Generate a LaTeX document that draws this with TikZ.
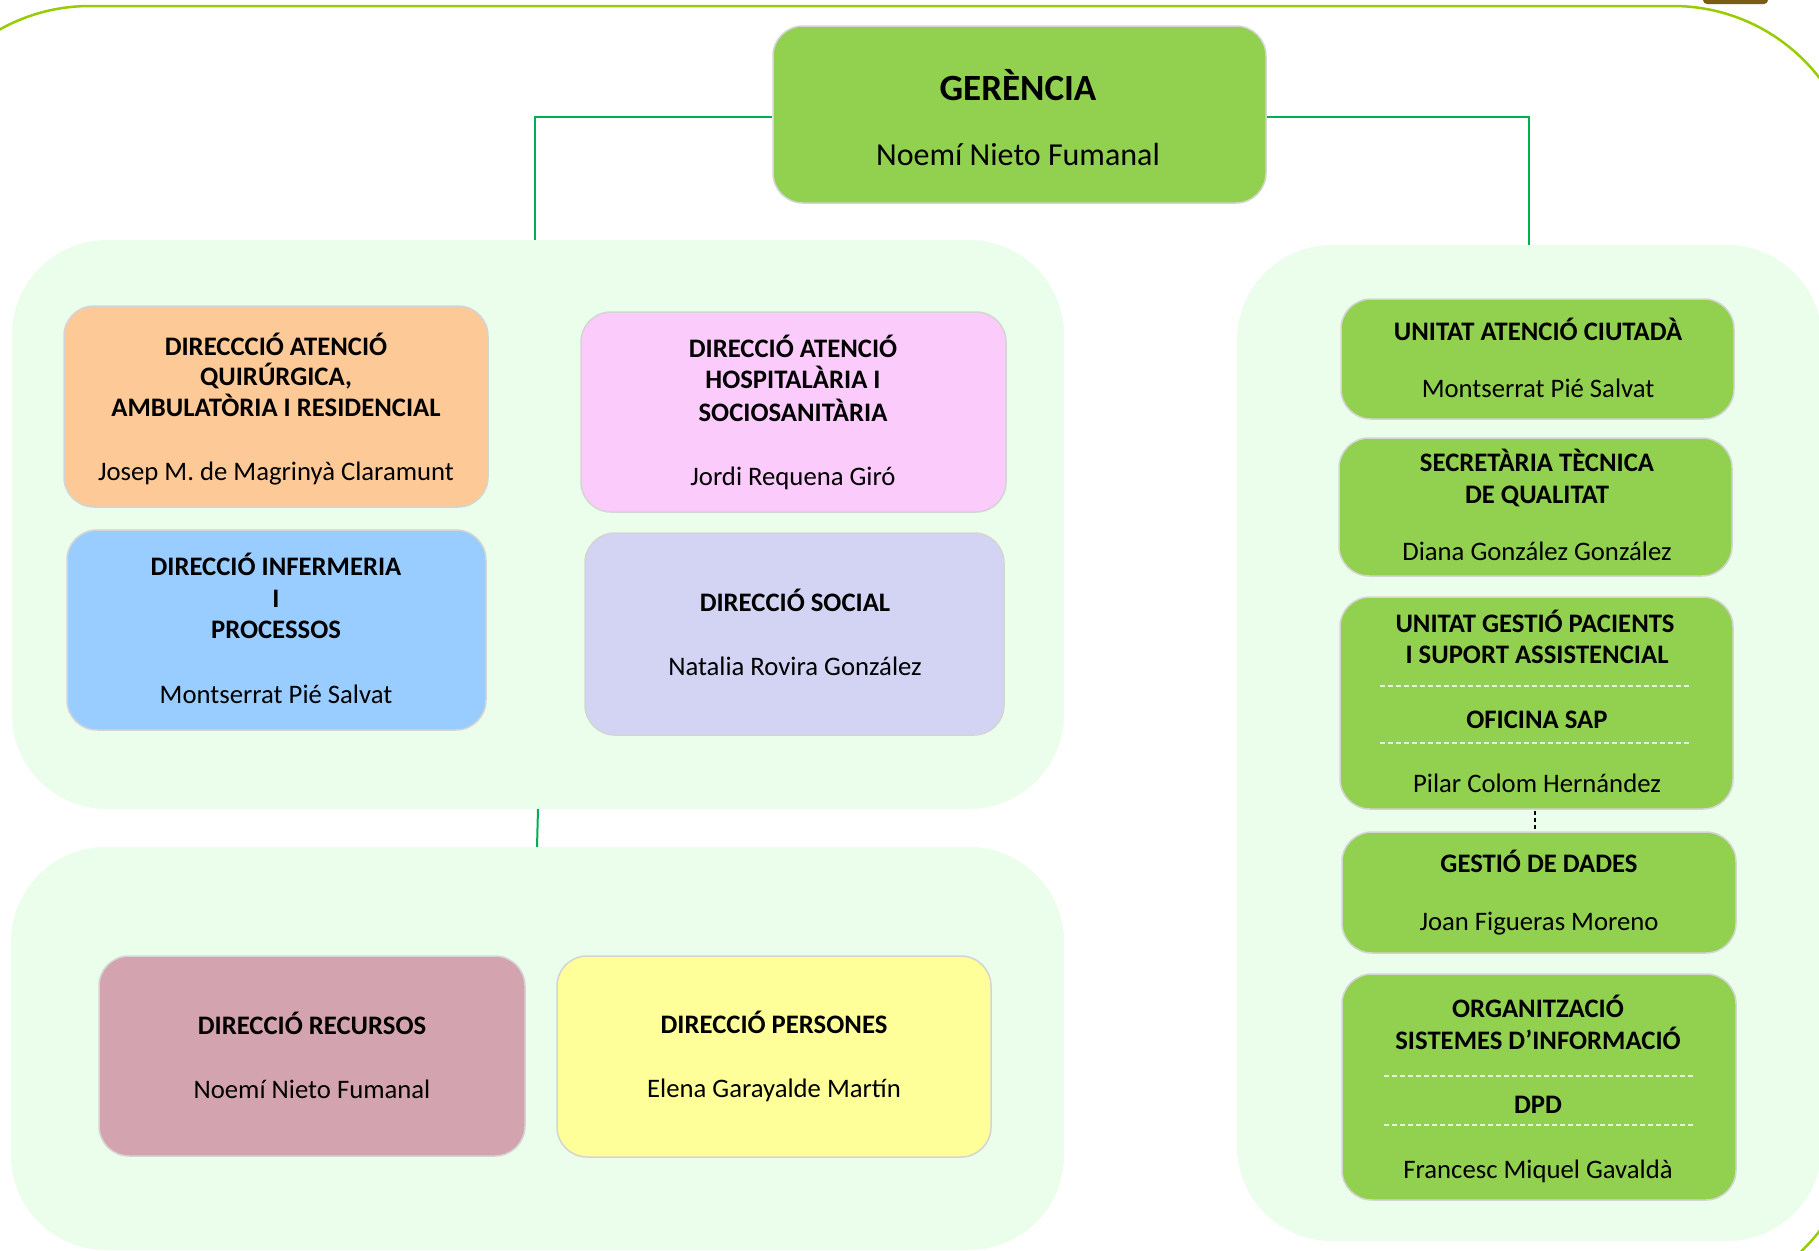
\documentclass[tikz,border=0pt]{standalone}
\usepackage{fontspec}
\setmainfont{Carlito}
\definecolor{frameline}{HTML}{99CC00}
\definecolor{conngreen}{HTML}{00B050}
\definecolor{panelbg}{HTML}{EBFDEB}
\definecolor{boxgreen}{HTML}{92D050}
\definecolor{boxorange}{HTML}{FDC996}
\definecolor{boxpink}{HTML}{FBCBFB}
\definecolor{boxblue}{HTML}{99CCFF}
\definecolor{boxlav}{HTML}{D3D4F3}
\definecolor{boxrose}{HTML}{D4A3B0}
\definecolor{boxyellow}{HTML}{FFFF99}
\definecolor{boxline}{HTML}{D4D4D4}
\definecolor{sepcol}{HTML}{E4F2DA}
\definecolor{logobrown}{HTML}{7A5C12}
\begin{document}
\begin{tikzpicture}[x=1pt,y=-1pt,
  box/.style={draw=boxline, line width=1.5pt, rounded corners=30pt, inner sep=0pt},
  panel/.style={fill=panelbg, draw=none, inner sep=0pt},
  ttl/.style={anchor=base, font=\fontsize{26.7}{31}\selectfont\bfseries, inner sep=0pt},
  nm/.style={anchor=base, font=\fontsize{26.7}{31}\selectfont, inner sep=0pt},
  conn/.style={draw=conngreen, line width=2pt},
  sep/.style={draw=sepcol, line width=1.3pt, dash pattern=on 5pt off 3pt}]
\useasboundingbox (0,0) rectangle (1819,1250);
\clip (0,0) rectangle (1819,1250);
\fill[white] (0,0) rectangle (1819,1250);
% outer frame
\draw[frameline, line width=2.5pt, rounded corners=185pt] (-95,6) rectangle (1858,1303);
\fill[logobrown, rounded corners=4pt] (1703,-10) rectangle (1768,4);
% panels
\node[panel, rounded corners=95pt, minimum width=1052pt, minimum height=569pt] (p1) at (538,524.5) {};
\node[panel, rounded corners=95pt, minimum width=1053pt, minimum height=403pt] (p2) at (537.5,1048.5) {};
\node[panel, rounded corners=95pt, minimum width=585pt, minimum height=996pt] (p3) at (1529.5,743) {};
% boxes
\node[box, fill=boxgreen, minimum width=493pt, minimum height=177pt] (ger) at (1019.5,114.5) {};
\node[box, fill=boxorange, minimum width=424pt, minimum height=201pt] (ba) at (276,406.5) {};
\node[box, fill=boxpink, minimum width=425pt, minimum height=200pt] (bb) at (793.5,412) {};
\node[box, fill=boxblue, minimum width=419pt, minimum height=200pt] (bc) at (276.5,630) {};
\node[box, fill=boxlav, minimum width=419pt, minimum height=202pt] (bd) at (794.5,634) {};
\node[box, fill=boxrose, minimum width=426pt, minimum height=200pt] (be) at (312,1056) {};
\node[box, fill=boxyellow, minimum width=434pt, minimum height=201pt] (bf) at (774,1056.5) {};
\node[box, fill=boxgreen, minimum width=393pt, minimum height=120pt] (r1) at (1537.5,359) {};
\node[box, fill=boxgreen, minimum width=393pt, minimum height=138pt] (r2) at (1535.5,507) {};
\node[box, fill=boxgreen, minimum width=393pt, minimum height=212pt] (r3) at (1536.5,703) {};
\node[box, fill=boxgreen, minimum width=394pt, minimum height=121pt] (r4) at (1539,892.5) {};
\node[box, fill=boxgreen, minimum width=394pt, minimum height=226pt] (r5) at (1539,1087) {};
% connectors
\coordinate (c1) at (535,240);
\coordinate (c2) at (1529,245);
\coordinate (c3) at (538,809);
\coordinate (c4) at (537,847);
\draw[conn] ([yshift=-2.5pt]ger.west) -| (c1);
\draw[conn] ([yshift=-2.5pt]ger.east) -| (c2);
\draw[conn] (c3) -- (c4);
\draw[black, line width=1.5pt, dash pattern=on 4pt off 3pt] (1535,811) -- (1535,831);
% separators
\draw[sep] (1380,686) -- (1690,686);
\draw[sep] (1380,743) -- (1690,743);
\draw[sep] (1384,1076) -- (1694,1076);
\draw[sep] (1384,1125) -- (1694,1125);
% texts
\node[ttl, font=\fontsize{37}{42}\selectfont\bfseries] (g1) at (1018,100) {GERÈNCIA};
\node[nm, font=\fontsize{32}{38}\selectfont] (g2) at (1018,165) {Noemí Nieto Fumanal};
\node[ttl] (a1) at (276,355) {DIRECCCIÓ ATENCIÓ};
\node[ttl] (a2) at (276,385) {QUIRÚRGICA,};
\node[ttl] (a3) at (276,416) {AMBULATÒRIA I RESIDENCIAL};
\node[nm] (a4) at (276,480) {Josep M. de Magrinyà Claramunt};
\node[ttl] (b1) at (793,357) {DIRECCIÓ ATENCIÓ};
\node[ttl] (b2) at (793,388) {HOSPITALÀRIA I};
\node[ttl] (b3) at (793,421) {SOCIOSANITÀRIA};
\node[nm] (b4) at (793,485) {Jordi Requena Giró};
\node[ttl] (cc1) at (276,575) {DIRECCIÓ INFERMERIA};
\node[ttl] (cc2) at (276,607) {I};
\node[ttl] (cc3) at (276,638) {PROCESSOS};
\node[nm] (cc4) at (276,703) {Montserrat Pié Salvat};
\node[ttl] (d1) at (795,611) {DIRECCIÓ SOCIAL};
\node[nm] (d2) at (795,675) {Natalia Rovira González};
\node[ttl] (e1) at (312,1034) {DIRECCIÓ RECURSOS};
\node[nm] (e2) at (312,1098) {Noemí Nieto Fumanal};
\node[ttl] (f1) at (774,1033) {DIRECCIÓ PERSONES};
\node[nm] (f2) at (774,1097) {Elena Garayalde Martín};
\node[ttl] (s1) at (1538,340) {UNITAT ATENCIÓ CIUTADÀ};
\node[nm] (s2) at (1538,397) {Montserrat Pié Salvat};
\node[ttl] (t1) at (1537,471) {SECRETÀRIA TÈCNICA};
\node[ttl] (t2) at (1537,503) {DE QUALITAT};
\node[nm] (t3) at (1537,560) {Diana González González};
\node[ttl] (u1) at (1535,632) {UNITAT GESTIÓ PACIENTS};
\node[ttl] (u2) at (1537,663) {I SUPORT ASSISTENCIAL};
\node[ttl] (u3) at (1537,728) {OFICINA SAP};
\node[nm] (u4) at (1537,792) {Pilar Colom Hernández};
\node[ttl] (v1) at (1539,872) {GESTIÓ DE DADES};
\node[nm] (v2) at (1539,930) {Joan Figueras Moreno};
\node[ttl] (w1) at (1538,1017) {ORGANITZACIÓ};
\node[ttl] (w2) at (1538,1049) {SISTEMES D’INFORMACIÓ};
\node[ttl] (w3) at (1538,1113) {DPD};
\node[nm] (w4) at (1538,1178) {Francesc Miquel Gavaldà};
\end{tikzpicture}
\end{document}
